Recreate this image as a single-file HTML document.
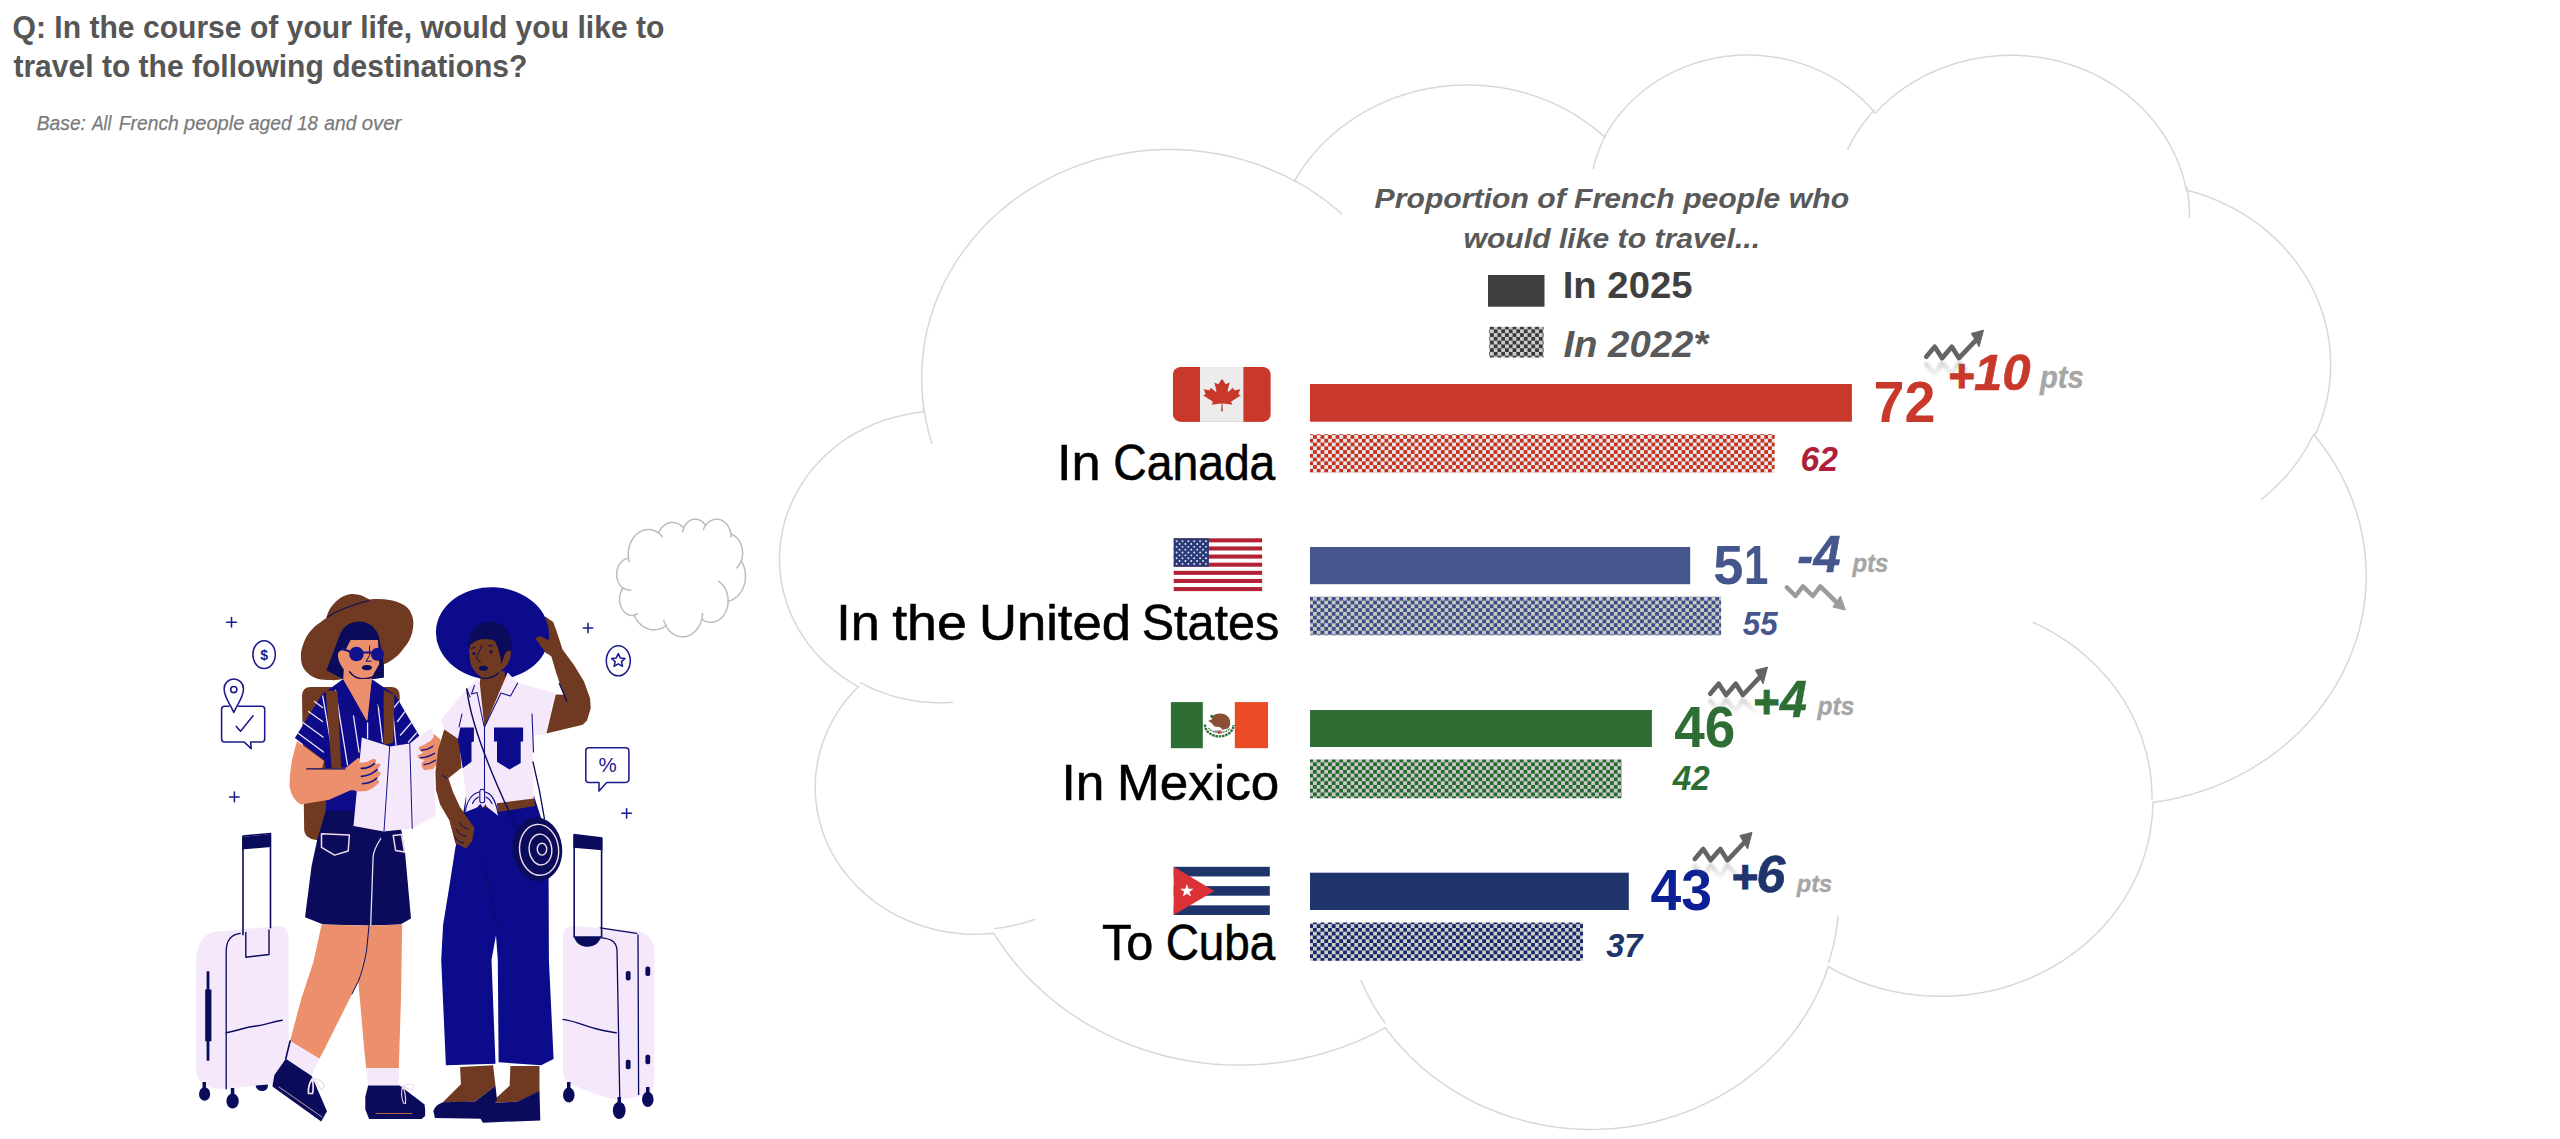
<!DOCTYPE html>
<html lang="en"><head><meta charset="utf-8"><title>Travel destinations</title>
<style>
html,body{margin:0;padding:0;background:#fff}
body{width:2560px;height:1139px;overflow:hidden}
svg{display:block;font-family:"Liberation Sans", sans-serif}
text{white-space:pre}
</style></head><body>
<svg width="2560" height="1139" viewBox="0 0 2560 1139">
<defs><pattern id="ckK" patternUnits="userSpaceOnUse" x="1490" y="325.65" width="7.52" height="7.52"><rect width="7.52" height="7.52" fill="#cbcbcb"/><rect width="3.76" height="3.76" fill="#3a3a3a"/><rect x="3.76" y="3.76" width="3.76" height="3.76" fill="#3a3a3a"/></pattern><pattern id="ckR" patternUnits="userSpaceOnUse" x="1309.3" y="431.3" width="7.52" height="7.52"><rect width="7.52" height="7.52" fill="#e2eaea"/><rect width="3.76" height="3.76" fill="#c8301c"/><rect x="3.76" y="3.76" width="3.76" height="3.76" fill="#c8301c"/></pattern><pattern id="ckU" patternUnits="userSpaceOnUse" x="1309.25" y="596.9" width="7.52" height="7.52"><rect width="7.52" height="7.52" fill="#c9c9c4"/><rect width="3.76" height="3.76" fill="#3d4d8a"/><rect x="3.76" y="3.76" width="3.76" height="3.76" fill="#3d4d8a"/></pattern><pattern id="ckM" patternUnits="userSpaceOnUse" x="1309.25" y="758.65" width="7.52" height="7.52"><rect width="7.52" height="7.52" fill="#ccc7cd"/><rect width="3.76" height="3.76" fill="#206a2a"/><rect x="3.76" y="3.76" width="3.76" height="3.76" fill="#206a2a"/></pattern><pattern id="ckC" patternUnits="userSpaceOnUse" x="1309.25" y="924.2" width="7.52" height="7.52"><rect width="7.52" height="7.52" fill="#cfcec8"/><rect width="3.76" height="3.76" fill="#17296c"/><rect x="3.76" y="3.76" width="3.76" height="3.76" fill="#17296c"/></pattern>
<linearGradient id="refl" x1="0" y1="0" x2="0" y2="1"><stop offset="0" stop-color="#fff" stop-opacity=".32"/><stop offset="1" stop-color="#fff" stop-opacity="0"/></linearGradient>
<mask id="reflM" maskUnits="userSpaceOnUse" x="-10" y="0" width="80" height="30"><rect x="-10" y="2" width="80" height="20" fill="url(#refl)"/></mask>
<filter id="blr" x="-20%" y="-50%" width="140%" height="200%"><feGaussianBlur stdDeviation="0.9"/></filter>
<g id="upShape"><path d="M0 0 L8.4 -10 L15.800 1.300 L25.500 -10 L32.600 1.300 L49.500 -16.500" fill="none" stroke-width="4.700" stroke-linejoin="round" stroke-linecap="round"/><path d="M57.200 -26.600 L45 -23.400 L52.800 -10 Z" stroke-width="1" stroke-linejoin="round"/></g>
<g id="upA"><use href="#upShape" fill="#646464" stroke="#646464"/><g mask="url(#reflM)"><use href="#upShape" fill="#646464" stroke="#646464" transform="translate(0 7.600) scale(1 -1)" filter="url(#blr)"/></g></g>
<g id="dnA" fill="#9b9b9b" stroke="#9b9b9b"><path d="M0 0 L8.700 8.600 L16.100 -1.100 L26.100 8.600 L33.500 -1.100 L50 15.200" fill="none" stroke-width="4.500" stroke-linejoin="round" stroke-linecap="round"/><path stroke-width="1" stroke-linejoin="round" d="M58.500 22.600 L53.700 8.600 L46.100 19.700 Z"/></g>
</defs>
<g fill="none" stroke="#d8d8d8" stroke-width="1.5"><path d="M923.9 408.8 L922.4 396.1 L921.7 383.3 L921.7 370.5 L922.6 357.8 L924.2 345.1 L926.6 332.5 L929.7 320.1 L933.6 307.8 L938.2 295.8 L943.5 284.0 L949.6 272.5 L956.3 261.4 L963.7 250.6 L971.7 240.2 L980.4 230.2 L989.6 220.7 L999.4 211.7 L1009.8 203.2 L1020.6 195.2 L1031.9 187.9 L1043.6 181.1 L1055.8 174.9 L1068.2 169.4 L1081.0 164.5 L1094.1 160.3 L1107.4 156.7 L1120.9 153.9 L1134.6 151.7 L1148.3 150.3 L1162.1 149.6 L1176.0 149.6 L1189.8 150.3 L1203.6 151.7 L1217.2 153.8 L1230.7 156.6 L1244.0 160.1 L1257.1 164.3 L1269.9 169.2 L1282.4 174.7 L1294.5 180.8 L1299.0 173.5 L1303.8 166.4 L1309.0 159.5 L1314.5 152.8 L1320.3 146.3 L1326.5 140.2 L1333.0 134.3 L1339.7 128.6 L1346.8 123.3 L1354.0 118.3 L1361.6 113.6 L1369.3 109.2 L1377.3 105.2 L1385.5 101.5 L1393.8 98.1 L1402.4 95.2 L1411.0 92.6 L1419.8 90.3 L1428.6 88.5 L1437.6 87.0 L1446.6 85.9 L1455.7 85.2 L1464.8 84.9 L1473.9 85.0 L1482.9 85.5 L1492.0 86.4 L1501.0 87.6 L1509.9 89.2 L1518.7 91.3 L1527.5 93.7 L1536.0 96.4 L1544.5 99.6 L1552.8 103.1 L1560.8 106.9 L1568.7 111.1 L1576.4 115.6 L1583.8 120.5 L1591.0 125.6 L1597.9 131.1 L1604.6 136.8 L1608.4 130.2 L1612.5 123.8 L1617.0 117.6 L1621.9 111.5 L1627.0 105.8 L1632.5 100.2 L1638.3 95.0 L1644.4 90.0 L1650.7 85.3 L1657.3 80.9 L1664.1 76.8 L1671.1 73.1 L1678.3 69.7 L1685.7 66.6 L1693.3 63.9 L1701.0 61.5 L1708.8 59.5 L1716.7 57.8 L1724.7 56.6 L1732.7 55.7 L1740.8 55.1 L1749.0 55.0 L1757.1 55.2 L1765.1 55.9 L1773.2 56.9 L1781.2 58.2 L1789.1 60.0 L1796.8 62.1 L1804.5 64.6 L1812.0 67.4 L1819.4 70.6 L1826.5 74.1 L1833.5 77.9 L1840.2 82.1 L1846.7 86.6 L1853.0 91.3 L1859.0 96.4 L1864.7 101.7 L1870.1 107.3 L1875.2 113.2 L1881.9 106.3 L1889.0 99.7 L1896.5 93.6 L1904.4 87.8 L1912.7 82.5 L1921.2 77.6 L1930.0 73.2 L1939.1 69.2 L1948.5 65.7 L1958.0 62.7 L1967.7 60.2 L1977.5 58.2 L1987.4 56.7 L1997.4 55.7 L2007.5 55.3 L2017.6 55.3 L2027.6 55.9 L2037.6 57.1 L2047.5 58.7 L2057.3 60.8 L2066.9 63.5 L2076.4 66.7 L2085.7 70.3 L2094.7 74.4 L2103.4 79.0 L2111.9 84.0 L2120.0 89.5 L2127.8 95.3 L2135.2 101.6 L2142.2 108.2 L2148.8 115.2 L2155.0 122.6 L2160.7 130.2 L2165.9 138.1 L2170.7 146.3 L2174.9 154.7 L2178.6 163.3 L2181.7 172.1 L2184.4 181.1 L2186.4 190.1 L2194.4 192.3 L2202.3 194.8 L2210.1 197.6 L2217.8 200.8 L2225.3 204.2 L2232.6 207.9 L2239.8 211.9 L2246.7 216.2 L2253.5 220.7 L2260.1 225.5 L2266.4 230.6 L2272.4 235.9 L2278.3 241.4 L2283.8 247.2 L2289.1 253.2 L2294.1 259.4 L2298.9 265.8 L2303.3 272.3 L2307.4 279.1 L2311.2 286.0 L2314.7 293.0 L2317.8 300.1 L2320.6 307.4 L2323.1 314.8 L2325.2 322.3 L2327.0 329.8 L2328.4 337.4 L2329.5 345.1 L2330.2 352.8 L2330.6 360.5 L2330.6 368.3 L2330.3 376.0 L2329.6 383.7 L2328.5 391.4 L2327.1 399.0 L2325.3 406.5 L2323.2 414.0 L2320.7 421.4 L2317.9 428.7 L2314.8 435.8 L2322.4 445.5 L2329.5 455.5 L2336.0 465.8 L2341.9 476.5 L2347.2 487.4 L2351.8 498.5 L2355.8 509.9 L2359.2 521.4 L2362.0 533.1 L2364.0 544.8 L2365.4 556.7 L2366.1 568.6 L2366.2 580.6 L2365.6 592.5 L2364.3 604.4 L2362.3 616.2 L2359.7 627.9 L2356.4 639.4 L2352.4 650.8 L2347.9 662.0 L2342.7 672.9 L2336.9 683.6 L2330.5 693.9 L2323.5 704.0 L2316.0 713.7 L2307.9 723.0 L2299.3 732.0 L2290.2 740.5 L2280.7 748.5 L2270.7 756.1 L2260.3 763.2 L2249.5 769.8 L2238.3 775.9 L2226.8 781.4 L2215.1 786.4 L2203.0 790.8 L2190.8 794.6 L2178.3 797.8 L2165.7 800.4 L2152.9 802.4 L2152.5 812.7 L2151.5 823.1 L2150.0 833.3 L2147.8 843.5 L2145.0 853.6 L2141.7 863.5 L2137.8 873.2 L2133.4 882.7 L2128.4 892.0 L2122.9 901.1 L2116.9 909.8 L2110.4 918.3 L2103.4 926.4 L2095.9 934.2 L2088.0 941.6 L2079.7 948.6 L2071.0 955.2 L2062.0 961.3 L2052.6 967.0 L2042.9 972.2 L2032.9 977.0 L2022.6 981.2 L2012.1 985.0 L2001.4 988.2 L1990.6 990.9 L1979.6 993.1 L1968.5 994.7 L1957.3 995.8 L1946.0 996.3 L1934.8 996.3 L1923.5 995.8 L1912.4 994.6 L1901.3 993.0 L1890.3 990.8 L1879.4 988.1 L1868.7 984.8 L1858.2 981.0 L1848.0 976.7 L1838.0 972.0 L1828.3 966.7 L1823.9 979.0 L1818.7 991.0 L1812.8 1002.7 L1806.2 1014.1 L1798.9 1025.2 L1791.0 1035.8 L1782.4 1046.0 L1773.2 1055.8 L1763.4 1065.0 L1753.1 1073.7 L1742.3 1081.9 L1731.0 1089.5 L1719.2 1096.5 L1707.0 1102.9 L1694.5 1108.6 L1681.6 1113.6 L1668.5 1118.0 L1655.1 1121.7 L1641.5 1124.7 L1627.7 1126.9 L1613.8 1128.5 L1599.9 1129.3 L1585.9 1129.4 L1571.9 1128.7 L1558.0 1127.4 L1544.2 1125.3 L1530.6 1122.4 L1517.1 1118.9 L1503.9 1114.7 L1491.0 1109.8 L1478.3 1104.2 L1466.1 1098.0 L1454.2 1091.2 L1442.8 1083.7 L1431.8 1075.7 L1421.4 1067.1 L1411.5 1057.9 L1402.2 1048.3 L1393.4 1038.2 L1385.4 1027.7 L1375.6 1032.8 L1365.6 1037.7 L1355.4 1042.1 L1345.0 1046.2 L1334.5 1049.9 L1323.8 1053.2 L1313.0 1056.1 L1302.1 1058.6 L1291.0 1060.7 L1279.9 1062.4 L1268.7 1063.7 L1257.5 1064.6 L1246.2 1065.0 L1235.0 1065.1 L1223.7 1064.7 L1212.5 1063.9 L1201.3 1062.7 L1190.1 1061.1 L1179.1 1059.1 L1168.1 1056.7 L1157.3 1053.8 L1146.6 1050.6 L1136.0 1047.0 L1125.6 1043.0 L1115.4 1038.6 L1105.3 1033.9 L1095.5 1028.7 L1085.9 1023.3 L1076.6 1017.4 L1067.5 1011.3 L1058.7 1004.8 L1050.2 998.0 L1041.9 990.8 L1034.0 983.4 L1026.4 975.7 L1019.2 967.7 L1012.3 959.5 L1005.7 951.0 L999.5 942.3 L993.7 933.3 L984.0 934.1 L974.3 934.3 L964.5 934.0 L954.8 933.1 L945.2 931.7 L935.7 929.8 L926.3 927.3 L917.1 924.3 L908.1 920.8 L899.4 916.8 L890.9 912.3 L882.8 907.4 L875.0 902.0 L867.6 896.1 L860.6 889.9 L854.0 883.3 L847.8 876.3 L842.2 869.0 L837.0 861.4 L832.3 853.5 L828.2 845.4 L824.6 837.0 L821.6 828.5 L819.1 819.8 L817.3 811.0 L816.0 802.1 L815.3 793.2 L815.2 784.2 L815.7 775.2 L816.8 766.3 L818.5 757.5 L820.7 748.8 L823.6 740.2 L827.0 731.8 L830.9 723.6 L835.4 715.6 L840.4 707.9 L845.9 700.5 L851.9 693.4 L858.3 686.7 L849.9 681.7 L841.8 676.3 L834.0 670.4 L826.7 664.1 L819.8 657.4 L813.4 650.3 L807.5 642.8 L802.1 635.0 L797.2 626.9 L792.9 618.5 L789.2 609.9 L786.1 601.1 L783.5 592.2 L781.6 583.1 L780.3 573.9 L779.6 564.6 L779.5 555.4 L780.1 546.1 L781.3 536.9 L783.1 527.8 L785.5 518.8 L788.6 510.0 L792.2 501.3 L796.4 492.9 L801.1 484.8 L806.4 476.9 L812.2 469.4 L818.6 462.2 L825.3 455.4 L832.6 449.0 L840.2 443.0 L848.3 437.5 L856.7 432.5 L865.4 428.0 L874.4 423.9 L883.7 420.5 L893.2 417.5 L902.8 415.2 L912.6 413.3 L922.5 412.1Z" fill="#fff"/><path d="M953.0 702.3 L950.5 702.4 L948.1 702.6 L945.7 702.7 L943.3 702.7 L940.9 702.7 L938.4 702.7 L936.0 702.7 L933.6 702.6 L931.2 702.5 L928.8 702.3 L926.4 702.1 L923.9 701.9 L921.5 701.7 L919.1 701.4 L916.7 701.1 L914.4 700.7 L912.0 700.3 L909.6 699.9 L907.2 699.5 L904.9 699.0 L902.5 698.5 L900.2 697.9 L897.8 697.3 L895.5 696.7 L893.2 696.0 L890.9 695.4 L888.6 694.6 L886.3 693.9 L884.0 693.1 L881.8 692.3 L879.5 691.5 L877.3 690.6 L875.1 689.7 L872.9 688.7 L870.7 687.8 L868.5 686.8 L866.4 685.7 L864.2 684.7 L862.1 683.6 L860.0 682.5 M1034.9 919.1 L1034.0 919.5 L1033.0 919.8 L1032.0 920.2 L1031.0 920.5 L1030.0 920.8 L1029.0 921.2 L1028.0 921.5 L1027.0 921.8 L1026.1 922.1 L1025.1 922.4 L1024.1 922.7 L1023.0 923.0 L1022.0 923.3 L1021.0 923.6 L1020.0 923.8 L1019.0 924.1 L1018.0 924.4 L1017.0 924.6 L1016.0 924.9 L1015.0 925.1 L1013.9 925.3 L1012.9 925.6 L1011.9 925.8 L1010.9 926.0 L1009.8 926.2 L1008.8 926.4 L1007.8 926.6 L1006.7 926.8 L1005.7 927.0 L1004.7 927.2 L1003.6 927.3 L1002.6 927.5 L1001.6 927.7 L1000.5 927.8 L999.5 928.0 L998.5 928.1 L997.4 928.2 L996.4 928.4 L995.3 928.5 L994.3 928.6 M1385.3 1023.3 L1384.5 1022.3 L1383.8 1021.3 L1383.1 1020.3 L1382.4 1019.2 L1381.7 1018.2 L1381.0 1017.2 L1380.3 1016.1 L1379.6 1015.1 L1378.9 1014.0 L1378.2 1013.0 L1377.5 1011.9 L1376.9 1010.9 L1376.2 1009.8 L1375.6 1008.7 L1374.9 1007.7 L1374.3 1006.6 L1373.6 1005.5 L1373.0 1004.5 L1372.4 1003.4 L1371.8 1002.3 L1371.2 1001.2 L1370.5 1000.1 L1369.9 999.0 L1369.4 997.9 L1368.8 996.8 L1368.2 995.7 L1367.6 994.6 L1367.1 993.5 L1366.5 992.4 L1365.9 991.3 L1365.4 990.2 L1364.9 989.1 L1364.3 988.0 L1363.8 986.8 L1363.3 985.7 L1362.8 984.6 L1362.2 983.5 L1361.7 982.3 L1361.3 981.2 L1360.8 980.1 M1838.3 915.4 L1838.1 916.7 L1838.0 917.9 L1837.9 919.1 L1837.8 920.3 L1837.6 921.5 L1837.5 922.7 L1837.3 923.9 L1837.2 925.1 L1837.0 926.3 L1836.8 927.5 L1836.7 928.7 L1836.5 929.9 L1836.3 931.1 L1836.1 932.3 L1835.9 933.5 L1835.6 934.7 L1835.4 935.8 L1835.2 937.0 L1835.0 938.2 L1834.7 939.4 L1834.5 940.6 L1834.2 941.8 L1834.0 943.0 L1833.7 944.2 L1833.4 945.3 L1833.1 946.5 L1832.8 947.7 L1832.5 948.9 L1832.2 950.1 L1831.9 951.2 L1831.6 952.4 L1831.3 953.6 L1831.0 954.8 L1830.6 955.9 L1830.3 957.1 L1829.9 958.3 L1829.6 959.4 L1829.2 960.6 L1828.9 961.8 L1828.5 962.9 M2032.7 622.2 L2038.1 624.6 L2043.3 627.3 L2048.5 630.0 L2053.6 632.9 L2058.6 635.9 L2063.5 639.1 L2068.3 642.3 L2073.0 645.7 L2077.6 649.2 L2082.1 652.9 L2086.4 656.6 L2090.7 660.5 L2094.8 664.4 L2098.9 668.5 L2102.7 672.7 L2106.5 677.0 L2110.1 681.3 L2113.6 685.8 L2117.0 690.3 L2120.2 695.0 L2123.3 699.7 L2126.2 704.5 L2129.0 709.4 L2131.6 714.3 L2134.1 719.3 L2136.4 724.4 L2138.6 729.5 L2140.6 734.7 L2142.5 739.9 L2144.1 745.2 L2145.7 750.5 L2147.0 755.9 L2148.3 761.3 L2149.3 766.7 L2150.2 772.1 L2150.9 777.6 L2151.4 783.1 L2151.8 788.6 L2152.0 794.1 L2152.0 799.6 M2314.1 433.2 L2313.2 435.1 L2312.2 437.0 L2311.3 438.9 L2310.3 440.8 L2309.3 442.7 L2308.3 444.5 L2307.3 446.4 L2306.2 448.2 L2305.1 450.1 L2304.0 451.9 L2302.9 453.7 L2301.7 455.5 L2300.5 457.2 L2299.3 459.0 L2298.1 460.8 L2296.9 462.5 L2295.6 464.2 L2294.3 465.9 L2293.0 467.6 L2291.7 469.3 L2290.3 471.0 L2289.0 472.6 L2287.6 474.3 L2286.2 475.9 L2284.7 477.5 L2283.3 479.1 L2281.8 480.7 L2280.3 482.3 L2278.8 483.8 L2277.3 485.3 L2275.7 486.9 L2274.2 488.4 L2272.6 489.8 L2271.0 491.3 L2269.3 492.8 L2267.7 494.2 L2266.0 495.6 L2264.4 497.0 L2262.7 498.4 L2261.0 499.7 M2186.6 186.4 L2186.8 187.2 L2186.9 188.0 L2187.1 188.7 L2187.2 189.5 L2187.3 190.3 L2187.5 191.1 L2187.6 191.8 L2187.7 192.6 L2187.8 193.4 L2188.0 194.2 L2188.1 195.0 L2188.2 195.8 L2188.3 196.5 L2188.4 197.3 L2188.5 198.1 L2188.5 198.9 L2188.6 199.7 L2188.7 200.5 L2188.8 201.3 L2188.9 202.0 L2188.9 202.8 L2189.0 203.6 L2189.1 204.4 L2189.1 205.2 L2189.2 206.0 L2189.2 206.8 L2189.2 207.6 L2189.3 208.3 L2189.3 209.1 L2189.4 209.9 L2189.4 210.7 L2189.4 211.5 L2189.4 212.3 L2189.4 213.1 L2189.4 213.9 L2189.5 214.7 L2189.5 215.4 L2189.5 216.2 L2189.4 217.0 L2189.4 217.8 M1847.5 149.8 L1848.0 148.7 L1848.5 147.6 L1849.1 146.5 L1849.6 145.4 L1850.2 144.4 L1850.7 143.3 L1851.3 142.2 L1851.9 141.2 L1852.5 140.1 L1853.1 139.1 L1853.7 138.0 L1854.3 137.0 L1854.9 136.0 L1855.5 134.9 L1856.2 133.9 L1856.8 132.9 L1857.5 131.8 L1858.1 130.8 L1858.8 129.8 L1859.5 128.8 L1860.2 127.8 L1860.9 126.8 L1861.6 125.8 L1862.3 124.8 L1863.0 123.8 L1863.7 122.9 L1864.5 121.9 L1865.2 120.9 L1865.9 120.0 L1866.7 119.0 L1867.5 118.0 L1868.2 117.1 L1869.0 116.1 L1869.8 115.2 L1870.6 114.3 L1871.4 113.3 L1872.2 112.4 L1873.0 111.5 L1873.8 110.6 L1874.7 109.7 M1593.0 168.8 L1593.2 167.9 L1593.4 167.1 L1593.7 166.2 L1593.9 165.3 L1594.1 164.4 L1594.4 163.5 L1594.6 162.6 L1594.9 161.7 L1595.1 160.8 L1595.4 159.9 L1595.7 159.1 L1596.0 158.2 L1596.3 157.3 L1596.5 156.4 L1596.8 155.5 L1597.1 154.7 L1597.5 153.8 L1597.8 152.9 L1598.1 152.1 L1598.4 151.2 L1598.8 150.3 L1599.1 149.5 L1599.4 148.6 L1599.8 147.7 L1600.1 146.9 L1600.5 146.0 L1600.9 145.2 L1601.2 144.3 L1601.6 143.5 L1602.0 142.6 L1602.4 141.8 L1602.8 140.9 L1603.2 140.1 L1603.6 139.3 L1604.0 138.4 L1604.4 137.6 L1604.9 136.8 L1605.3 135.9 L1605.7 135.1 L1606.2 134.3 M1294.4 180.6 L1295.7 181.3 L1296.9 182.0 L1298.2 182.7 L1299.5 183.4 L1300.8 184.2 L1302.1 184.9 L1303.3 185.7 L1304.6 186.4 L1305.8 187.2 L1307.1 187.9 L1308.3 188.7 L1309.6 189.5 L1310.8 190.3 L1312.0 191.1 L1313.3 191.9 L1314.5 192.7 L1315.7 193.5 L1316.9 194.3 L1318.1 195.2 L1319.3 196.0 L1320.5 196.8 L1321.7 197.7 L1322.9 198.6 L1324.0 199.4 L1325.2 200.3 L1326.4 201.2 L1327.5 202.0 L1328.7 202.9 L1329.8 203.8 L1331.0 204.7 L1332.1 205.6 L1333.2 206.6 L1334.4 207.5 L1335.5 208.4 L1336.6 209.3 L1337.7 210.3 L1338.8 211.2 L1339.9 212.2 L1341.0 213.1 L1342.0 214.1 M932.2 444.0 L931.9 443.2 L931.6 442.3 L931.4 441.4 L931.1 440.6 L930.8 439.7 L930.6 438.8 L930.3 438.0 L930.0 437.1 L929.8 436.2 L929.5 435.3 L929.3 434.5 L929.1 433.6 L928.8 432.7 L928.6 431.8 L928.4 431.0 L928.1 430.1 L927.9 429.2 L927.7 428.3 L927.5 427.4 L927.3 426.5 L927.1 425.7 L926.9 424.8 L926.7 423.9 L926.5 423.0 L926.3 422.1 L926.1 421.2 L925.9 420.4 L925.7 419.5 L925.6 418.6 L925.4 417.7 L925.2 416.8 L925.0 415.9 L924.9 415.0 L924.7 414.1 L924.6 413.2 L924.4 412.3 L924.3 411.4 L924.1 410.6 L924.0 409.7 L923.9 408.8"/></g>
<g fill="none" stroke="#bcbcbc" stroke-width="1.5" stroke-linecap="round"><path d="M628.41 557.92 L628.29 556.53 L628.23 555.13 L628.24 553.73 L628.30 552.34 L628.44 550.95 L628.63 549.57 L628.88 548.21 L629.20 546.87 L629.57 545.55 L630.00 544.26 L630.50 543.00 L631.04 541.78 L631.64 540.60 L632.29 539.46 L633.00 538.37 L633.75 537.33 L634.54 536.34 L635.38 535.41 L636.26 534.54 L637.18 533.73 L638.13 532.99 L639.11 532.31 L640.13 531.71 L641.16 531.17 L642.23 530.71 L643.30 530.32 L644.40 530.01 L645.51 529.78 L646.62 529.62 L647.75 529.54 L648.87 529.54 L649.99 529.61 L651.11 529.77 L652.22 530.00 L653.31 530.31 L654.39 530.69 L655.45 531.15 L656.49 531.68 L657.51 532.29 L658.49 532.96 L658.85 532.16 L659.24 531.38 L659.66 530.62 L660.11 529.89 L660.58 529.19 L661.08 528.51 L661.61 527.86 L662.16 527.25 L662.73 526.66 L663.32 526.11 L663.93 525.60 L664.56 525.12 L665.21 524.68 L665.87 524.27 L666.55 523.91 L667.24 523.58 L667.94 523.30 L668.65 523.05 L669.37 522.85 L670.10 522.69 L670.83 522.57 L671.57 522.49 L672.31 522.46 L673.04 522.47 L673.78 522.52 L674.51 522.62 L675.24 522.75 L675.97 522.93 L676.68 523.15 L677.39 523.42 L678.09 523.72 L678.77 524.06 L679.45 524.45 L680.10 524.87 L680.74 525.32 L681.36 525.82 L681.97 526.35 L682.55 526.92 L683.11 527.51 L683.65 528.14 L683.96 527.42 L684.29 526.71 L684.66 526.03 L685.05 525.37 L685.47 524.74 L685.92 524.14 L686.39 523.56 L686.88 523.02 L687.39 522.50 L687.93 522.02 L688.48 521.57 L689.05 521.16 L689.63 520.79 L690.23 520.45 L690.85 520.15 L691.47 519.89 L692.11 519.67 L692.75 519.49 L693.40 519.35 L694.05 519.26 L694.71 519.20 L695.37 519.18 L696.02 519.21 L696.68 519.28 L697.33 519.39 L697.98 519.54 L698.62 519.73 L699.25 519.96 L699.87 520.23 L700.48 520.54 L701.08 520.89 L701.66 521.27 L702.23 521.69 L702.77 522.15 L703.30 522.64 L703.81 523.16 L704.30 523.72 L704.76 524.30 L705.20 524.91 L705.61 525.55 L706.15 524.80 L706.73 524.08 L707.34 523.41 L707.98 522.78 L708.65 522.20 L709.35 521.66 L710.06 521.17 L710.80 520.74 L711.56 520.35 L712.33 520.02 L713.12 519.75 L713.91 519.53 L714.72 519.37 L715.53 519.26 L716.35 519.21 L717.16 519.22 L717.98 519.29 L718.79 519.41 L719.59 519.59 L720.39 519.82 L721.17 520.11 L721.94 520.46 L722.69 520.86 L723.42 521.31 L724.13 521.81 L724.82 522.36 L725.48 522.96 L726.11 523.60 L726.71 524.29 L727.28 525.01 L727.82 525.78 L728.32 526.58 L728.78 527.42 L729.20 528.28 L729.59 529.18 L729.93 530.10 L730.23 531.04 L730.49 532.01 L730.70 532.99 L730.87 533.98 L731.52 534.22 L732.16 534.49 L732.79 534.80 L733.41 535.14 L734.02 535.52 L734.62 535.92 L735.20 536.36 L735.76 536.83 L736.31 537.33 L736.84 537.85 L737.36 538.41 L737.85 538.99 L738.32 539.60 L738.77 540.23 L739.20 540.89 L739.61 541.56 L739.99 542.26 L740.35 542.98 L740.68 543.72 L740.99 544.47 L741.27 545.24 L741.53 546.03 L741.76 546.82 L741.96 547.63 L742.13 548.45 L742.28 549.28 L742.39 550.11 L742.48 550.95 L742.54 551.79 L742.57 552.64 L742.57 553.48 L742.54 554.33 L742.48 555.17 L742.40 556.01 L742.28 556.85 L742.14 557.67 L741.97 558.49 L741.77 559.30 L741.54 560.10 L741.29 560.88 L741.91 561.94 L742.48 563.04 L743.00 564.17 L743.48 565.33 L743.91 566.53 L744.29 567.75 L744.62 568.99 L744.89 570.25 L745.11 571.53 L745.28 572.82 L745.39 574.12 L745.45 575.42 L745.46 576.73 L745.40 578.04 L745.30 579.34 L745.14 580.63 L744.93 581.91 L744.66 583.17 L744.34 584.42 L743.97 585.64 L743.55 586.84 L743.08 588.01 L742.56 589.15 L741.99 590.25 L741.38 591.31 L740.72 592.33 L740.03 593.31 L739.29 594.24 L738.52 595.12 L737.70 595.96 L736.86 596.73 L735.98 597.45 L735.08 598.12 L734.15 598.72 L733.19 599.27 L732.22 599.75 L731.22 600.16 L730.21 600.52 L729.18 600.80 L728.15 601.02 L728.12 602.15 L728.04 603.29 L727.91 604.41 L727.73 605.52 L727.51 606.62 L727.24 607.71 L726.92 608.77 L726.56 609.82 L726.16 610.84 L725.71 611.83 L725.22 612.78 L724.70 613.71 L724.13 614.60 L723.52 615.45 L722.88 616.26 L722.21 617.03 L721.50 617.75 L720.77 618.42 L720.01 619.04 L719.22 619.62 L718.41 620.14 L717.57 620.60 L716.72 621.01 L715.86 621.37 L714.97 621.66 L714.08 621.90 L713.18 622.08 L712.27 622.20 L711.36 622.26 L710.45 622.26 L709.54 622.19 L708.63 622.07 L707.73 621.89 L706.83 621.65 L705.95 621.35 L705.09 620.99 L704.24 620.58 L703.40 620.11 L702.59 619.59 L701.81 619.01 L701.45 620.36 L701.03 621.67 L700.55 622.96 L700.01 624.21 L699.42 625.41 L698.78 626.58 L698.08 627.70 L697.34 628.76 L696.54 629.78 L695.71 630.73 L694.83 631.63 L693.91 632.46 L692.95 633.22 L691.96 633.92 L690.95 634.55 L689.90 635.10 L688.84 635.58 L687.75 635.98 L686.64 636.31 L685.53 636.56 L684.40 636.73 L683.27 636.81 L682.13 636.82 L681.00 636.75 L679.87 636.60 L678.75 636.37 L677.64 636.07 L676.55 635.68 L675.48 635.22 L674.43 634.68 L673.41 634.07 L672.41 633.39 L671.45 632.64 L670.52 631.82 L669.63 630.94 L668.79 630.00 L667.98 629.00 L667.22 627.95 L666.52 626.84 L665.86 625.69 L665.07 626.25 L664.26 626.78 L663.43 627.27 L662.59 627.72 L661.73 628.12 L660.87 628.48 L659.99 628.80 L659.10 629.08 L658.20 629.31 L657.30 629.49 L656.39 629.63 L655.48 629.73 L654.57 629.78 L653.66 629.78 L652.74 629.74 L651.83 629.66 L650.92 629.53 L650.02 629.35 L649.12 629.13 L648.23 628.86 L647.35 628.55 L646.48 628.20 L645.62 627.80 L644.78 627.37 L643.95 626.89 L643.14 626.37 L642.34 625.80 L641.56 625.21 L640.80 624.57 L640.07 623.89 L639.35 623.18 L638.66 622.43 L637.99 621.65 L637.35 620.84 L636.73 620.00 L636.14 619.12 L635.58 618.22 L635.05 617.29 L634.55 616.34 L634.08 615.36 L633.29 615.44 L632.50 615.47 L631.71 615.43 L630.92 615.34 L630.14 615.18 L629.37 614.97 L628.61 614.70 L627.86 614.37 L627.13 613.99 L626.42 613.55 L625.74 613.06 L625.08 612.51 L624.45 611.92 L623.84 611.28 L623.27 610.60 L622.74 609.88 L622.24 609.11 L621.78 608.32 L621.36 607.48 L620.98 606.62 L620.65 605.73 L620.36 604.82 L620.11 603.88 L619.91 602.93 L619.76 601.97 L619.66 600.99 L619.60 600.01 L619.59 599.03 L619.63 598.05 L619.72 597.07 L619.86 596.10 L620.04 595.15 L620.27 594.21 L620.55 593.29 L620.87 592.39 L621.23 591.52 L621.64 590.67 L622.08 589.86 L622.57 589.09 L623.09 588.35 L622.40 587.81 L621.75 587.21 L621.12 586.57 L620.53 585.88 L619.97 585.14 L619.45 584.36 L618.97 583.55 L618.53 582.69 L618.13 581.81 L617.79 580.89 L617.48 579.95 L617.23 578.98 L617.02 578.00 L616.86 577.01 L616.76 576.00 L616.70 574.99 L616.70 573.97 L616.74 572.96 L616.84 571.95 L616.99 570.95 L617.18 569.97 L617.43 569.00 L617.72 568.06 L618.06 567.13 L618.45 566.24 L618.88 565.38 L619.35 564.56 L619.86 563.77 L620.42 563.02 L621.00 562.32 L621.62 561.67 L622.28 561.07 L622.96 560.52 L623.67 560.02 L624.40 559.58 L625.15 559.20 L625.92 558.88 L626.70 558.62 L627.50 558.42 L628.30 558.28Z" fill="#fff"/><path d="M630.77 590.06 L630.57 590.08 L630.38 590.09 L630.18 590.10 L629.99 590.11 L629.79 590.11 L629.59 590.11 L629.40 590.10 L629.20 590.09 L629.00 590.08 L628.81 590.06 L628.61 590.04 L628.42 590.02 L628.22 589.99 L628.03 589.96 L627.83 589.93 L627.64 589.89 L627.44 589.85 L627.25 589.80 L627.06 589.75 L626.87 589.70 L626.68 589.64 L626.49 589.58 L626.30 589.52 L626.11 589.45 L625.92 589.38 L625.73 589.30 L625.55 589.22 L625.36 589.14 L625.18 589.06 L624.99 588.97 L624.81 588.87 L624.63 588.78 L624.45 588.68 L624.27 588.58 L624.10 588.47 L623.92 588.36 L623.74 588.25 L623.57 588.13 L623.40 588.01 L623.23 587.89 M637.42 613.80 L637.34 613.84 L637.26 613.88 L637.18 613.92 L637.10 613.95 L637.02 613.99 L636.94 614.03 L636.86 614.06 L636.78 614.10 L636.70 614.13 L636.62 614.16 L636.54 614.20 L636.46 614.23 L636.38 614.26 L636.30 614.29 L636.21 614.32 L636.13 614.35 L636.05 614.38 L635.97 614.40 L635.88 614.43 L635.80 614.46 L635.72 614.48 L635.64 614.51 L635.55 614.53 L635.47 614.56 L635.39 614.58 L635.30 614.60 L635.22 614.62 L635.14 614.64 L635.05 614.66 L634.97 614.68 L634.88 614.70 L634.80 614.72 L634.72 614.74 L634.63 614.75 L634.55 614.77 L634.46 614.79 L634.38 614.80 L634.29 614.82 L634.21 614.83 L634.12 614.84 M665.85 625.21 L665.79 625.10 L665.73 624.99 L665.68 624.88 L665.62 624.76 L665.56 624.65 L665.50 624.54 L665.45 624.42 L665.39 624.31 L665.34 624.19 L665.28 624.08 L665.23 623.96 L665.17 623.85 L665.12 623.73 L665.07 623.62 L665.01 623.50 L664.96 623.38 L664.91 623.26 L664.86 623.15 L664.81 623.03 L664.76 622.91 L664.71 622.79 L664.66 622.67 L664.61 622.55 L664.56 622.43 L664.51 622.31 L664.47 622.19 L664.42 622.07 L664.38 621.95 L664.33 621.83 L664.28 621.71 L664.24 621.59 L664.20 621.46 L664.15 621.34 L664.11 621.22 L664.07 621.09 L664.03 620.97 L663.99 620.85 L663.94 620.72 L663.90 620.60 L663.86 620.47 M702.61 613.40 L702.60 613.53 L702.60 613.66 L702.58 613.80 L702.57 613.93 L702.56 614.06 L702.55 614.19 L702.54 614.32 L702.53 614.45 L702.51 614.59 L702.50 614.72 L702.48 614.85 L702.47 614.98 L702.45 615.11 L702.44 615.24 L702.42 615.37 L702.40 615.50 L702.38 615.63 L702.37 615.76 L702.35 615.89 L702.33 616.02 L702.31 616.15 L702.29 616.28 L702.26 616.41 L702.24 616.54 L702.22 616.67 L702.20 616.80 L702.17 616.93 L702.15 617.06 L702.13 617.19 L702.10 617.32 L702.08 617.45 L702.05 617.58 L702.02 617.70 L701.99 617.83 L701.97 617.96 L701.94 618.09 L701.91 618.22 L701.88 618.34 L701.85 618.47 L701.82 618.60 M718.40 581.29 L718.83 581.56 L719.26 581.84 L719.68 582.15 L720.09 582.46 L720.49 582.79 L720.89 583.14 L721.28 583.49 L721.66 583.86 L722.04 584.25 L722.40 584.65 L722.75 585.06 L723.10 585.48 L723.44 585.91 L723.76 586.36 L724.08 586.82 L724.38 587.29 L724.68 587.76 L724.96 588.25 L725.23 588.75 L725.49 589.26 L725.74 589.78 L725.98 590.30 L726.21 590.83 L726.42 591.37 L726.62 591.92 L726.81 592.48 L726.99 593.04 L727.15 593.61 L727.30 594.18 L727.44 594.76 L727.56 595.34 L727.67 595.93 L727.77 596.52 L727.85 597.11 L727.93 597.71 L727.98 598.30 L728.03 598.90 L728.06 599.51 L728.07 600.11 L728.08 600.71 M741.23 560.60 L741.15 560.81 L741.08 561.01 L741.00 561.22 L740.92 561.43 L740.84 561.63 L740.76 561.84 L740.67 562.04 L740.59 562.24 L740.50 562.44 L740.41 562.64 L740.32 562.84 L740.22 563.03 L740.13 563.23 L740.03 563.42 L739.93 563.61 L739.83 563.80 L739.73 563.99 L739.62 564.18 L739.52 564.37 L739.41 564.55 L739.30 564.73 L739.19 564.91 L739.08 565.09 L738.96 565.27 L738.85 565.45 L738.73 565.62 L738.61 565.80 L738.49 565.97 L738.36 566.14 L738.24 566.31 L738.11 566.47 L737.99 566.64 L737.86 566.80 L737.73 566.96 L737.60 567.12 L737.46 567.27 L737.33 567.43 L737.19 567.58 L737.06 567.73 L736.92 567.88 M730.88 533.57 L730.90 533.66 L730.91 533.74 L730.92 533.83 L730.93 533.91 L730.94 534.00 L730.95 534.08 L730.96 534.17 L730.97 534.25 L730.98 534.34 L730.99 534.42 L731.00 534.51 L731.01 534.60 L731.02 534.68 L731.03 534.77 L731.03 534.85 L731.04 534.94 L731.05 535.03 L731.05 535.11 L731.06 535.20 L731.07 535.28 L731.07 535.37 L731.08 535.46 L731.08 535.54 L731.09 535.63 L731.09 535.71 L731.09 535.80 L731.10 535.89 L731.10 535.97 L731.10 536.06 L731.11 536.15 L731.11 536.23 L731.11 536.32 L731.11 536.41 L731.11 536.49 L731.11 536.58 L731.11 536.67 L731.11 536.75 L731.11 536.84 L731.11 536.92 L731.11 537.01 M703.36 529.56 L703.40 529.44 L703.45 529.32 L703.49 529.20 L703.53 529.09 L703.58 528.97 L703.63 528.85 L703.67 528.74 L703.72 528.62 L703.77 528.50 L703.82 528.39 L703.86 528.28 L703.91 528.16 L703.97 528.05 L704.02 527.93 L704.07 527.82 L704.12 527.71 L704.17 527.60 L704.23 527.49 L704.28 527.38 L704.34 527.27 L704.39 527.16 L704.45 527.05 L704.51 526.94 L704.56 526.83 L704.62 526.72 L704.68 526.61 L704.74 526.51 L704.80 526.40 L704.86 526.30 L704.92 526.19 L704.98 526.09 L705.05 525.98 L705.11 525.88 L705.17 525.78 L705.24 525.67 L705.30 525.57 L705.37 525.47 L705.43 525.37 L705.50 525.27 L705.57 525.17 M682.71 531.65 L682.73 531.55 L682.75 531.45 L682.76 531.35 L682.78 531.26 L682.80 531.16 L682.82 531.06 L682.84 530.96 L682.86 530.87 L682.88 530.77 L682.91 530.67 L682.93 530.58 L682.95 530.48 L682.97 530.38 L683.00 530.29 L683.02 530.19 L683.05 530.10 L683.07 530.00 L683.10 529.91 L683.12 529.81 L683.15 529.72 L683.18 529.62 L683.21 529.53 L683.23 529.43 L683.26 529.34 L683.29 529.24 L683.32 529.15 L683.35 529.06 L683.38 528.96 L683.41 528.87 L683.44 528.78 L683.47 528.69 L683.51 528.59 L683.54 528.50 L683.57 528.41 L683.61 528.32 L683.64 528.23 L683.67 528.14 L683.71 528.05 L683.74 527.96 L683.78 527.87 M658.48 532.93 L658.58 533.01 L658.69 533.09 L658.79 533.17 L658.89 533.25 L659.00 533.33 L659.10 533.41 L659.20 533.49 L659.31 533.57 L659.41 533.66 L659.51 533.74 L659.61 533.82 L659.71 533.91 L659.81 534.00 L659.91 534.08 L660.01 534.17 L660.11 534.26 L660.21 534.35 L660.31 534.44 L660.40 534.53 L660.50 534.62 L660.60 534.72 L660.69 534.81 L660.79 534.90 L660.88 535.00 L660.98 535.09 L661.07 535.19 L661.17 535.28 L661.26 535.38 L661.35 535.48 L661.45 535.58 L661.54 535.68 L661.63 535.78 L661.72 535.88 L661.81 535.98 L661.90 536.08 L661.99 536.19 L662.08 536.29 L662.17 536.39 L662.26 536.50 L662.35 536.60 M629.09 561.78 L629.06 561.69 L629.04 561.59 L629.02 561.50 L629.00 561.40 L628.97 561.31 L628.95 561.21 L628.93 561.12 L628.91 561.02 L628.89 560.92 L628.87 560.83 L628.85 560.73 L628.83 560.64 L628.81 560.54 L628.79 560.45 L628.77 560.35 L628.76 560.25 L628.74 560.16 L628.72 560.06 L628.70 559.96 L628.69 559.87 L628.67 559.77 L628.65 559.67 L628.64 559.58 L628.62 559.48 L628.61 559.38 L628.59 559.29 L628.58 559.19 L628.56 559.09 L628.55 558.99 L628.53 558.90 L628.52 558.80 L628.51 558.70 L628.49 558.60 L628.48 558.51 L628.47 558.41 L628.46 558.31 L628.44 558.21 L628.43 558.12 L628.42 558.02 L628.41 557.92"/></g>
<text x="12.6" y="38.0" font-size="30.5" font-weight="bold" font-style="normal" fill="#565656" textLength="651.77" lengthAdjust="spacingAndGlyphs">Q: In the course of your life, would you like to</text>
<text x="13.41" y="76.9" font-size="30.5" font-weight="bold" font-style="normal" fill="#565656" textLength="514.01" lengthAdjust="spacingAndGlyphs">travel to the following destinations?</text>
<text y="129.7" font-size="19.7" font-style="italic" fill="#7a7a7a" stroke="#7a7a7a" stroke-width=".25"><tspan x="36.8" textLength="49.14" lengthAdjust="spacingAndGlyphs">Base:</tspan> <tspan x="91.89" textLength="19.4" lengthAdjust="spacingAndGlyphs">All</tspan> <tspan x="118.76" textLength="60.04" lengthAdjust="spacingAndGlyphs">French</tspan> <tspan x="184.03" textLength="60.39" lengthAdjust="spacingAndGlyphs">people</tspan> <tspan x="248.93" textLength="42.7" lengthAdjust="spacingAndGlyphs">aged</tspan> <tspan x="297.2" textLength="20.67" lengthAdjust="spacingAndGlyphs">18</tspan> <tspan x="324.34" textLength="32.01" lengthAdjust="spacingAndGlyphs">and</tspan> <tspan x="361.76" textLength="39.53" lengthAdjust="spacingAndGlyphs">over</tspan></text>
<text x="1374.6" y="207.5" font-size="27.3" font-weight="bold" font-style="italic" fill="#595959" textLength="474.56" lengthAdjust="spacingAndGlyphs">Proportion of French people who</text>
<text x="1463.47" y="247.5" font-size="27.3" font-weight="bold" font-style="italic" fill="#595959" textLength="296.6" lengthAdjust="spacingAndGlyphs">would like to travel...</text>
<rect x="1488" y="275" width="56.5" height="31.7" fill="#404040"/>
<text x="1562.69" y="298.3" font-size="36.8" font-weight="bold" font-style="normal" fill="#404040" textLength="129.82" lengthAdjust="spacingAndGlyphs">In 2025</text>
<rect x="1489.3" y="326.8" width="54.3" height="30.7" fill="url(#ckK)"/>
<text x="1563.42" y="356.5" font-size="36.8" font-weight="bold" font-style="italic" fill="#595959" textLength="144.86" lengthAdjust="spacingAndGlyphs">In 2022*</text>
<rect x="1310" y="384" width="541.9" height="37.7" fill="#c8392b"/>
<rect x="1310" y="434.2" width="464.7" height="38.3" fill="url(#ckR)"/>
<text y="479.7" font-size="49.4" fill="#000" stroke="#000" stroke-width=".55"><tspan x="1056.96" textLength="43.7" lengthAdjust="spacingAndGlyphs">In</tspan> <tspan x="1113.31" textLength="162.03" lengthAdjust="spacingAndGlyphs">Canada</tspan></text>
<rect x="1310" y="547" width="380.2" height="37.2" fill="#44568c"/>
<rect x="1310" y="596.7" width="411.1" height="38.6" fill="url(#ckU)"/>
<text y="640" font-size="49.4" fill="#000" stroke="#000" stroke-width=".55"><tspan x="836.26" textLength="43.51" lengthAdjust="spacingAndGlyphs">In</tspan> <tspan x="892.18" textLength="74.71" lengthAdjust="spacingAndGlyphs">the</tspan> <tspan x="978.95" textLength="152.04" lengthAdjust="spacingAndGlyphs">United</tspan> <tspan x="1141.72" textLength="137.54" lengthAdjust="spacingAndGlyphs">States</tspan></text>
<rect x="1310" y="710" width="341.9" height="37.0" fill="#2e6e35"/>
<rect x="1310" y="759.5" width="311.6" height="38.8" fill="url(#ckM)"/>
<text y="799.8" font-size="49.4" fill="#000" stroke="#000" stroke-width=".55"><tspan x="1061.55" textLength="42.84" lengthAdjust="spacingAndGlyphs">In</tspan> <tspan x="1117.13" textLength="162.12" lengthAdjust="spacingAndGlyphs">Mexico</tspan></text>
<rect x="1310" y="872.7" width="318.8" height="37.3" fill="#20346c"/>
<rect x="1310" y="922.5" width="273.0" height="38.3" fill="url(#ckC)"/>
<text y="960" font-size="49.4" fill="#000" stroke="#000" stroke-width=".55"><tspan x="1101.94" textLength="51.34" lengthAdjust="spacingAndGlyphs">To</tspan> <tspan x="1165.65" textLength="109.67" lengthAdjust="spacingAndGlyphs">Cuba</tspan></text>
<text x="1873.61" y="421.6" font-size="58.0" font-weight="bold" font-style="normal" fill="#c8392b" textLength="62.02" lengthAdjust="spacingAndGlyphs">72</text>
<text font-weight="bold" font-style="italic" fill="#c8392b" stroke="#c8392b" stroke-width="0.5"><tspan x="1947.69" y="391.8" font-size="46.22" textLength="26.39" lengthAdjust="spacingAndGlyphs" stroke-width="1.1">+</tspan><tspan x="1974.0" y="389.64" font-size="50.26" textLength="56.68" lengthAdjust="spacingAndGlyphs">10</tspan></text>
<text x="2040.06" y="388.2" font-size="30.96" font-weight="bold" font-style="italic" fill="#a6a6a6" stroke="#a6a6a6" stroke-width="0.4" textLength="43.76" lengthAdjust="spacingAndGlyphs">pts</text>
<text x="1800.49" y="470.8" font-size="35.0" font-weight="bold" font-style="italic" fill="#ae1f3a" textLength="37.47" lengthAdjust="spacingAndGlyphs">62</text>
<text font-weight="bold" fill="#44568c"><tspan x="1713.16" y="584.12" font-size="55.98" textLength="30.23" lengthAdjust="spacingAndGlyphs">5</tspan><tspan x="1744.12" y="584.4" font-size="56.33" textLength="24.39" lengthAdjust="spacingAndGlyphs">1</tspan></text>
<text font-weight="bold" font-style="italic" fill="#44568c" stroke="#44568c" stroke-width="0.5"><tspan x="1797.31" y="572.7" font-size="49.53" textLength="15.95" lengthAdjust="spacingAndGlyphs" stroke-width="0.5">-</tspan><tspan x="1813.52" y="571.8" font-size="51.3" textLength="27.06" lengthAdjust="spacingAndGlyphs">4</tspan></text>
<text x="1852.38" y="572.1" font-size="25.21" font-weight="bold" font-style="italic" fill="#a6a6a6" stroke="#a6a6a6" stroke-width="0.35" textLength="36.09" lengthAdjust="spacingAndGlyphs">pts</text>
<text x="1742.76" y="635.3" font-size="34.0" font-weight="bold" font-style="italic" fill="#44568c" textLength="34.88" lengthAdjust="spacingAndGlyphs">55</text>
<text x="1674.25" y="747.0" font-size="58.0" font-weight="bold" font-style="normal" fill="#2e6e35" textLength="61.05" lengthAdjust="spacingAndGlyphs">46</text>
<text font-weight="bold" font-style="italic" fill="#2e6e35" stroke="#2e6e35" stroke-width="0.5"><tspan x="1752.73" y="718.0" font-size="45.52" textLength="26.08" lengthAdjust="spacingAndGlyphs" stroke-width="1.1">+</tspan><tspan x="1780.03" y="716.6" font-size="51.15" textLength="26.85" lengthAdjust="spacingAndGlyphs">4</tspan></text>
<text x="1817.49" y="715.4" font-size="25.14" font-weight="bold" font-style="italic" fill="#a6a6a6" stroke="#a6a6a6" stroke-width="0.35" textLength="36.79" lengthAdjust="spacingAndGlyphs">pts</text>
<text x="1672.76" y="789.7" font-size="35.0" font-weight="bold" font-style="italic" fill="#2e6e35" textLength="36.97" lengthAdjust="spacingAndGlyphs">42</text>
<text x="1650.55" y="909.8" font-size="58.0" font-weight="bold" font-style="normal" fill="#0c1f94" textLength="61.52" lengthAdjust="spacingAndGlyphs">43</text>
<text font-weight="bold" font-style="italic" fill="#20346c" stroke="#20346c" stroke-width="0.5"><tspan x="1730.91" y="892.9" font-size="46.22" textLength="26.57" lengthAdjust="spacingAndGlyphs" stroke-width="1.1">+</tspan><tspan x="1756.35" y="892.42" font-size="51.23" textLength="29.2" lengthAdjust="spacingAndGlyphs">6</tspan></text>
<text x="1796.74" y="891.5" font-size="24.78" font-weight="bold" font-style="italic" fill="#a6a6a6" stroke="#a6a6a6" stroke-width="0.35" textLength="35.51" lengthAdjust="spacingAndGlyphs">pts</text>
<text x="1606.17" y="957.2" font-size="34.0" font-weight="bold" font-style="italic" fill="#20346c" textLength="36.24" lengthAdjust="spacingAndGlyphs">37</text>
<g transform="translate(1926.3 356.8)"><use href="#upA"/></g>
<g transform="translate(1710.3 693.7)"><use href="#upA"/></g>
<g transform="translate(1694.8 859)"><use href="#upA"/></g>
<g transform="translate(1786.8 587.4)"><use href="#dnA"/></g>
<g>
<clipPath id="caC"><rect x="1172.8" y="366.9" width="98" height="55" rx="8" ry="8"/></clipPath>
<g clip-path="url(#caC)"><rect x="1172.8" y="366.9" width="98" height="55" fill="#c8392b"/><rect x="1200" y="366.9" width="43.4" height="55" fill="#ececec"/></g>
<path transform="translate(1222 378.8) scale(0.01024 0.0081)" fill="#c8392b" d="M-90 4000 L-45 3130 A90 90 0 0 0 -152 3038 L-1010 3190 L-893 2870 A65 65 0 0 0 -913 2796 L-1855 2035 L-1643 1936 A65 65 0 0 0 -1609 1857 L-1795 1285 L-1253 1400 A65 65 0 0 0 -1180 1362 L-1075 1115 L-652 1569 A65 65 0 0 0 -541 1512 L-745 460 L-418 649 A65 65 0 0 0 -327 622 L0 0 L327 622 A65 65 0 0 0 418 649 L745 460 L541 1512 A65 65 0 0 0 652 1569 L1075 1115 L1180 1362 A65 65 0 0 0 1253 1400 L1795 1285 L1609 1857 A65 65 0 0 0 1643 1936 L1855 2035 L913 2796 A65 65 0 0 0 893 2870 L1010 3190 L152 3038 A90 90 0 0 0 45 3130 L90 4000 Z"/>
</g>
<g><rect x="1173.7" y="538.3" width="88.4" height="52.8" fill="#fff"/><rect x="1173.7" y="538.30" width="88.4" height="4.06" fill="#b22234"/><rect x="1173.7" y="546.42" width="88.4" height="4.06" fill="#b22234"/><rect x="1173.7" y="554.55" width="88.4" height="4.06" fill="#b22234"/><rect x="1173.7" y="562.67" width="88.4" height="4.06" fill="#b22234"/><rect x="1173.7" y="570.79" width="88.4" height="4.06" fill="#b22234"/><rect x="1173.7" y="578.92" width="88.4" height="4.06" fill="#b22234"/><rect x="1173.7" y="587.04" width="88.4" height="4.06" fill="#b22234"/><rect x="1173.7" y="538.3" width="35.2" height="28.43" fill="#2b3a78"/><circle cx="1176.63" cy="541.14" r="0.95" fill="#e8eaf2"/><circle cx="1182.50" cy="541.14" r="0.95" fill="#e8eaf2"/><circle cx="1188.37" cy="541.14" r="0.95" fill="#e8eaf2"/><circle cx="1194.23" cy="541.14" r="0.95" fill="#e8eaf2"/><circle cx="1200.10" cy="541.14" r="0.95" fill="#e8eaf2"/><circle cx="1205.97" cy="541.14" r="0.95" fill="#e8eaf2"/><circle cx="1179.57" cy="543.99" r="0.95" fill="#e8eaf2"/><circle cx="1185.43" cy="543.99" r="0.95" fill="#e8eaf2"/><circle cx="1191.30" cy="543.99" r="0.95" fill="#e8eaf2"/><circle cx="1197.17" cy="543.99" r="0.95" fill="#e8eaf2"/><circle cx="1203.03" cy="543.99" r="0.95" fill="#e8eaf2"/><circle cx="1176.63" cy="546.83" r="0.95" fill="#e8eaf2"/><circle cx="1182.50" cy="546.83" r="0.95" fill="#e8eaf2"/><circle cx="1188.37" cy="546.83" r="0.95" fill="#e8eaf2"/><circle cx="1194.23" cy="546.83" r="0.95" fill="#e8eaf2"/><circle cx="1200.10" cy="546.83" r="0.95" fill="#e8eaf2"/><circle cx="1205.97" cy="546.83" r="0.95" fill="#e8eaf2"/><circle cx="1179.57" cy="549.67" r="0.95" fill="#e8eaf2"/><circle cx="1185.43" cy="549.67" r="0.95" fill="#e8eaf2"/><circle cx="1191.30" cy="549.67" r="0.95" fill="#e8eaf2"/><circle cx="1197.17" cy="549.67" r="0.95" fill="#e8eaf2"/><circle cx="1203.03" cy="549.67" r="0.95" fill="#e8eaf2"/><circle cx="1176.63" cy="552.52" r="0.95" fill="#e8eaf2"/><circle cx="1182.50" cy="552.52" r="0.95" fill="#e8eaf2"/><circle cx="1188.37" cy="552.52" r="0.95" fill="#e8eaf2"/><circle cx="1194.23" cy="552.52" r="0.95" fill="#e8eaf2"/><circle cx="1200.10" cy="552.52" r="0.95" fill="#e8eaf2"/><circle cx="1205.97" cy="552.52" r="0.95" fill="#e8eaf2"/><circle cx="1179.57" cy="555.36" r="0.95" fill="#e8eaf2"/><circle cx="1185.43" cy="555.36" r="0.95" fill="#e8eaf2"/><circle cx="1191.30" cy="555.36" r="0.95" fill="#e8eaf2"/><circle cx="1197.17" cy="555.36" r="0.95" fill="#e8eaf2"/><circle cx="1203.03" cy="555.36" r="0.95" fill="#e8eaf2"/><circle cx="1176.63" cy="558.20" r="0.95" fill="#e8eaf2"/><circle cx="1182.50" cy="558.20" r="0.95" fill="#e8eaf2"/><circle cx="1188.37" cy="558.20" r="0.95" fill="#e8eaf2"/><circle cx="1194.23" cy="558.20" r="0.95" fill="#e8eaf2"/><circle cx="1200.10" cy="558.20" r="0.95" fill="#e8eaf2"/><circle cx="1205.97" cy="558.20" r="0.95" fill="#e8eaf2"/><circle cx="1179.57" cy="561.04" r="0.95" fill="#e8eaf2"/><circle cx="1185.43" cy="561.04" r="0.95" fill="#e8eaf2"/><circle cx="1191.30" cy="561.04" r="0.95" fill="#e8eaf2"/><circle cx="1197.17" cy="561.04" r="0.95" fill="#e8eaf2"/><circle cx="1203.03" cy="561.04" r="0.95" fill="#e8eaf2"/><circle cx="1176.63" cy="563.89" r="0.95" fill="#e8eaf2"/><circle cx="1182.50" cy="563.89" r="0.95" fill="#e8eaf2"/><circle cx="1188.37" cy="563.89" r="0.95" fill="#e8eaf2"/><circle cx="1194.23" cy="563.89" r="0.95" fill="#e8eaf2"/><circle cx="1200.10" cy="563.89" r="0.95" fill="#e8eaf2"/><circle cx="1205.97" cy="563.89" r="0.95" fill="#e8eaf2"/></g>
<g>
<rect x="1170.9" y="702.1" width="32" height="46.1" fill="#2e6e35"/>
<rect x="1202.9" y="702.1" width="32" height="46.1" fill="#fff"/>
<rect x="1234.8" y="702.1" width="33.2" height="46.1" fill="#ea4a25"/>
<path d="M1205 724.600 A14.300 11.600 0 0 0 1233.600 725" fill="none" stroke="#33743a" stroke-width="2.400" stroke-dasharray="2.600 .7"/>
<path d="M1208.500 728 A12 8 0 0 0 1230 728.500" fill="none" stroke="#3b7a42" stroke-width="1.300" stroke-dasharray="1.800 .8"/>
<path d="M1213 716C1217 712.300 1226 712.800 1229 718C1231 722 1230.500 726 1228 728.500L1222.500 729.800L1220 727.200L1214.500 726.400L1211 722.500L1208 721L1212 719.200Z" fill="#8b4f35"/>
<path d="M1211 714.500l3.500 1.200l-1.600 3l-3 -1.600z" fill="#3b7a42"/>
<path d="M1213.500 730.200h9v2.400h-9z" fill="#8b93b8" opacity=".75"/>
<circle cx="1219.200" cy="732.200" r="1.700" fill="#d3452d"/>
</g>
<g>
<rect x="1173.7" y="866.8" width="96.1" height="48.2" fill="#fff"/>
<rect x="1173.7" y="866.8" width="96.1" height="9.64" fill="#20346c"/>
<rect x="1173.7" y="886.08" width="96.1" height="9.64" fill="#20346c"/>
<rect x="1173.7" y="905.36" width="96.1" height="9.64" fill="#20346c"/>
<path d="M1173.7 866.8 L1214.3 890.9 L1173.7 915 Z" fill="#dc3237"/>
<path transform="translate(1186.9 890.9)" fill="#fff" d="M0 -7 L1.65 -2.27 L6.66 -2.16 L2.67 0.87 L4.11 5.66 L0 2.8 L-4.11 5.66 L-2.67 0.87 L-6.66 -2.16 L-1.65 -2.27 Z"/>
</g>
<g id="illus" stroke-linejoin="round" stroke-linecap="round">
<!-- decorative icons -->
<g fill="none" stroke="#1b1b8d" stroke-width="1.55">
<path d="M226.7 622.2h9.6M231.5 617.4v9.6"/>
<path d="M229.6 796.9h9.6M234.4 792.1v9.6"/>
<path d="M583.2 628h9.6M588 623.2v9.6"/>
<path d="M621.8 813.3h9.6M626.6 808.5v9.6"/>
<ellipse cx="264.1" cy="654.6" rx="11.2" ry="13.9"/>
<ellipse cx="618.3" cy="660.8" rx="12" ry="15"/>
<path d="M618.3 653.6l2 4.3 4.7.5-3.5 3.2 1 4.7-4.2-2.4-4.2 2.4 1-4.7-3.5-3.2 4.7-.5z"/>
<path d="M233.800 712.500c-3.400-8.400-9.700-15-9.700-23.800a9.700 9.700 0 0 1 19.400 0c0 8.800-6.300 15.400-9.700 23.800z" fill="#fff"/>
<circle cx="233.800" cy="689.500" r="3.100"/>
<path d="M229 706.200h-4.400a3 3 0 0 0-3 3v29.700a3 3 0 0 0 3 3h19.400l7.200 6.700-.6-6.700h11.100a3 3 0 0 0 3-3v-29.700a3 3 0 0 0-3-3h-23.200"/>
<path d="M236.300 726.400l4.200 4.900 12.600-15.500"/>
<path d="M588.800 747.700h37.100a3 3 0 0 1 3 3v28.700a3 3 0 0 1-3 3h-19.200l-7.700 8.700v-8.700h-10.200a3 3 0 0 1-3-3v-28.700a3 3 0 0 1 3-3z"/>
</g>
<text x="264.200" y="659.600" font-size="14" font-weight="bold" fill="#1b1b8d" text-anchor="middle">$</text>
<text x="607.700" y="772.300" font-size="20.500" fill="#1b1b8d" text-anchor="middle">%</text>

<!-- left suitcase -->
<g>
<path d="M242.200 836.800l28.800-2.800v13l-28.800 2.400z" fill="#0b0b5c"/>
<path d="M196.200 965.600C196.200 945 203 934 213.600 932L278 925.900C286 925.500 288.700 931 288.700 940.400V1072C288.700 1080 284 1082.600 278 1083.200L226.200 1088.800C208 1089.500 196.200 1084 196.200 1069.200Z" fill="#f6e8fb"/>
<path d="M243 934.800V836l27.500-2.500v94.300" fill="none" stroke="#0b0b5c" stroke-width="1.600"/>
<path d="M226.200 1088.800V951.600C226.200 941 231 934.500 240.200 933.400" fill="none" stroke="#0b0b5c" stroke-width="1.300"/>
<path d="M226.200 1032.800C240 1030 246 1027 256 1026S270 1022 282.200 1020.200" fill="none" stroke="#0b0b5c" stroke-width="1.400"/>
<path d="M245.800 932.500V957.200L269 954.500V930" fill="none" stroke="#0b0b5c" stroke-width="1.400"/>
<path d="M206.600 971.200h2.800v18.200h2v51.800h-2v19.600h-2.800v-19.600h-1.400v-51.800h1.400z" fill="#0b0b5c"/>
<g fill="#0b0b5c"><path d="M202.500 1082h3.500v6h-3.500zM230.800 1088h3.500v6h-3.500z"/><ellipse cx="204.600" cy="1094" rx="5.600" ry="6.800"/><ellipse cx="232.600" cy="1101" rx="6.200" ry="7.600"/><path d="M255.500 1085.500c1 4 4 6 7.500 5.500s5-3 5-6.600z"/></g>
</g>

<!-- right suitcase -->
<g>
<path d="M573.400 833.800l29 3.400v13l-29-2.400z" fill="#0b0b5c"/>
<path d="M563 937.600C563 930 567 926.200 573.600 925.900L635.200 930.600C648 932.500 654.300 940 654.300 951.600V1080.400C654.300 1089 650 1094 643.600 1095.800L619.800 1100C600 1097 585 1090 568 1083.200C564 1080 563 1074 563 1066.400Z" fill="#f6e8fb"/>
<path d="M574.200 937V836l27.400 2.500v98.500" fill="none" stroke="#0b0b5c" stroke-width="1.600"/>
<path d="M573.800 936.200c2 8 8 10.500 14 10.500s11.500-3.500 13.500-10.500z" fill="#0b0b5c"/>
<path d="M600.200 937.600C609 938.500 616 940 617 950L619.800 1100M600.200 927.800L636.600 933.400M638 934.800L638.600 1094.400" fill="none" stroke="#0b0b5c" stroke-width="1.300"/>
<path d="M563 1019.400C575 1021 585 1026 595 1028.500S606 1031 616.200 1032.800" fill="none" stroke="#0b0b5c" stroke-width="1.400"/>
<g fill="#0b0b5c"><rect x="625.800" y="971" width="4.800" height="9.400" rx="1.800"/><rect x="645.400" y="966.600" width="4.800" height="9.400" rx="1.800"/><rect x="625.800" y="1059.800" width="4.800" height="9.400" rx="1.800"/><rect x="645.400" y="1054.800" width="4.800" height="9.400" rx="1.800"/>
<path d="M567 1082h3.500v6H567zM617.500 1097h3.500v6h-3.500zM646 1087h3.500v6H646z"/><ellipse cx="568.800" cy="1095" rx="5.800" ry="7.400"/><ellipse cx="619.200" cy="1110.300" rx="6.400" ry="8.600"/><ellipse cx="647.800" cy="1099.400" rx="5.800" ry="7.600"/></g>
</g>

<!-- woman 1 -->
<g>
<path d="M302 696Q302 687 311 687H391Q399.700 687 399.700 696V770L330 812L318 840.300Q305 839 304.200 830Z" fill="#6f3a21"/>
<!-- hat -->
<path d="M349.500 594.200C354 593.500 358 594.500 362.200 595.800C365 597 367 598.500 369.600 599.500C376 599 383 598.800 389.600 600C395 601 400 602.500 404.300 605.300C408 608 410.500 611 411.700 614.800C413 618 413.500 621 413.300 624.300C413 629 412.500 633 410.700 636.900C409 641 407 644.500 404.300 647.400C401.500 651 399 654.500 395.900 656.900C392 660 388 662.500 383.800 664.300L383.800 677.500L343.200 679.100C339 680 335 680.300 330.600 680.100C326 680 322 680 317.900 679.100C314 677.500 310 675.500 307.400 672.700C304.500 670 302.500 667 301.600 663.200C300.800 659 300.700 655.500 301.100 651.700C302 646.500 304 641.500 306.300 636.900C308.500 633 311.500 629.500 314.800 626.400C318.500 623.300 322.500 620.800 326.400 617.900C327 615 328 612.500 329.500 609.500C332 605.500 335 602 339 599C342 596.500 345.500 595 349.500 594.200Z" fill="#6f3a21"/>
<path d="M327.400 616.900C340 609 354 604.500 368.500 600.500" fill="none" stroke="#0b0b5c" stroke-width="1.200"/>
<!-- hair -->
<path d="M339 636.900C342 627 350 621.600 359 621.600C369 621.600 376.500 628 379 636.900L383.800 664.300V677.500L374.800 679H343.200L326.400 670.600Z" fill="#0b0b5c"/>
<!-- face + neck -->
<path d="M350.600 640H378L379.200 664.300L372.500 676L371.700 679L367.200 721.500L343.200 679L343.800 669.600C340 664 337.500 659 338 653.800C339 650.500 342 649.500 345 651Z" fill="#ec8f6c"/>
<path d="M349.500 671.700C352.500 675.500 356 677.800 360 678.400C364.500 679 368.500 678.500 372.700 677" fill="none" stroke="#0b0b5c" stroke-width="1.400"/>
<ellipse cx="366.900" cy="667.600" rx="5" ry="2.700" fill="#0b0b5c"/>
<path d="M369.600 646V655.500L366 661.200H371" fill="none" stroke="#0b0b5c" stroke-width="1"/>
<circle cx="356.400" cy="654" r="7.300" fill="#12128c"/><circle cx="377.400" cy="654.300" r="6.500" fill="#12128c"/>
<path d="M342.200 648.500L350.500 652M362.500 652.400H372" fill="none" stroke="#14148c" stroke-width="2"/>
<!-- shirt -->
<path d="M343.200 679L322.100 694.200L294.900 738L324.500 760.600L327 790L325.700 811L401 831L405 760L409.800 744L419.300 735.700L395.600 695.400L371.700 679L367.200 721.500Z" fill="#0d0b8a"/>
<path d="M343.200 679L367.200 721.500L371.700 679Z" fill="#ec8f6c"/>
<g fill="none" stroke="#efe4fa" stroke-width="1.300">
<path d="M314.500 701.500L322.500 707.500M308.500 711.500L322.500 721.500M303 722.500L323 737M298.500 733.500L323.500 752"/>
<path d="M322.700 696L332 750M335.500 690.500L347.500 765M353.500 716L359 752M367.600 723V738M378 705L382.500 742M393 715L396 745"/>
<path d="M394 707.500L399.200 701.200M397.500 721.500L405.500 710.800M400.500 735L411.500 722.500M408.500 742L416.500 733"/>
</g>
<path d="M343.500 700.500L346.500 707.500L367.200 721.500L379.500 704L378 698" fill="none" stroke="#0b0b5c" stroke-width="1"/>
<!-- straps -->
<path d="M325.700 690.700H337.500L341.100 768H331.600Z" fill="#6f3a21"/>
<path d="M383.700 690L394.400 695L393.200 742.800L383.700 745Z" fill="#6f3a21"/>
<!-- left arm -->
<path d="M297 741L324 761L322 768.500L345.800 767.700L358.300 757.800L362 760.500H376L380.200 768L379 782L372 791L350.600 790.200L329.200 799.700L300.800 804.400Q292 800 289.500 786.600Q289.500 770 293 756Z" fill="#ec8f6c"/>
<path d="M306.700 768.900H345" fill="none" stroke="#0b0b5c" stroke-width="1.200"/>
<!-- shorts -->
<path d="M325.700 810.700L356 810.700L401.500 830.800L405.100 853.300L411 918.500L400.300 924.400L369.500 925.600L323.300 924.400L305 917.300L311.500 866.400L317.400 839.100Z" fill="#0b0b5c"/>
<path d="M321.500 833.800L349.400 835L348.200 851L334.600 855.100L321.500 847.400ZM393.200 835.500L401.500 834.400L404.500 852.100L395.600 850.400Z" fill="none" stroke="#f3dde9" stroke-width="1.500"/>
<path d="M380.800 838.500C376 846 373.500 851 373.100 856.900L370.700 925.600" fill="none" stroke="#ecdff6" stroke-width="1.300"/>
<!-- map -->
<path d="M361.800 737.500L389.700 746.400L409.800 743.400L432.300 727.400L435.900 815.400L412.200 828.400L383.700 831.400L353.500 826.100Z" fill="#f6e8fb"/>
<path d="M389.700 746.400L384 831M409.800 743.400L412.200 828.400" fill="none" stroke="#14148c" stroke-width="1"/>
<!-- hands -->
<path d="M355 763.500L358.900 762.700L366.900 762.100Q370 760 373 759.100Q376 758.800 376.100 760.300Q376.200 762.500 374.900 764L379.200 763.400Q381 764 380.100 765.800L376.700 770.700L379.800 772Q381.300 773 380.400 774.400L376.700 779.300L378.900 780.900Q379.800 782 378.600 783L373 787.900L366.900 791L359.500 791.600L355 791Z" fill="#ec8f6c"/>
<path d="M361.300 768.300Q369 768.500 374.300 763.600M361.300 776.300Q370 776 377.200 769.700M362.600 783.600Q370.500 783.500 376.600 778.300" fill="none" stroke="#14148c" stroke-width="1.700"/>
<path d="M433.500 733.400L440.500 739.600L440 753.100L437 764.200L433.200 769.100L424.500 770.200Q421.500 768 421.500 764.200Q421.800 761.500 424.600 759.900L418.800 758.600Q416.800 756.500 418.400 755L423.400 753.100L419.800 750.600Q418 748.500 419.600 746.800L424.600 744.500L430.700 740.800L433.500 737.100Z" fill="#ec8f6c"/>
<path d="M421.500 750.200Q427.500 750 432.800 746.200M420.800 757.800Q428 757.300 434.500 753.300M424.200 764.600Q430 764 435.300 760.200" fill="none" stroke="#14148c" stroke-width="1.400"/>
<!-- legs -->
<path d="M321.600 924.500L369 925.700L366.600 950.500L358.300 981.400L324 1050L319.300 1058.700L290.100 1041L301.500 998L313.300 962.400Z" fill="#ec8f6c"/>
<path d="M369 925.700L402.200 924.500L401 998L398.800 1068.300H366.200L364.300 1050L358.300 981.400L366.600 950.500Z" fill="#ec8f6c"/>
<path d="M369 925.700L366.600 950.500C364.500 962 362 972 358.300 981.400L352 994" fill="none" stroke="#0b0b5c" stroke-width="1"/>
<!-- socks + shoes -->
<path d="M290.100 1041L319.300 1058.700L311.700 1075.900L285.800 1058.700Z" fill="#f6e8fb"/>
<path d="M285.800 1058.700L311.700 1075.900L327 1111.300L321.200 1121.400L272.400 1086.500L274.400 1075Z" fill="#0b0b5c"/>
<path d="M290.100 1041L285.800 1058.700" fill="none" stroke="#0b0b5c" stroke-width="1.600"/>
<path d="M279 1087L322 1117" fill="none" stroke="#e9c9c0" stroke-width=".8"/>
<path d="M312 1079C318 1078 323 1081 324.500 1086L321.500 1090C318.500 1085 315 1081 312 1079C309.500 1083 308 1089 308.500 1093.500H312.500C313.500 1089 313.500 1084 312 1079Z" fill="none" stroke="#f3e3f0" stroke-width="1.700"/>
<path d="M366.200 1068.300H398.800V1085.500H368.100Z" fill="#f6e8fb"/>
<path d="M368.100 1085.500H399.700L424.600 1104.600Q425.500 1110 425.100 1116.100L421.700 1119H369.100L365.300 1109.400V1097Z" fill="#0b0b5c"/>
<path d="M376 1113.500H412" fill="none" stroke="#b5643c" stroke-width="1.200"/>
<path d="M402.500 1086C407 1084 411.500 1084 414 1085.500L413 1090C409 1089.500 405.500 1088 402.500 1086C401 1092 401.500 1098 403.500 1103L405.500 1103.500C406 1097 405 1091 402.500 1086Z" fill="none" stroke="#f0d9e6" stroke-width="1.100"/>
</g>

<!-- woman 2 -->
<g>
<!-- raised arm (behind hat) -->
<path d="M545.200 616.600L553.200 622.100L556.900 632L562.400 649.200L574.100 665.200L583.900 681.200L590.100 698.400L590.700 708.200L587 720.500L582.700 724.800L546.400 733.400L555.700 694.500L563.600 694.700L560.600 686.100L555.700 671.300L551.400 656.600L544.600 651.600L540 640L543 625Z" fill="#6f3a21"/>
<path d="M559.300 683.600L566.700 700.800" fill="none" stroke="#0b0b5c" stroke-width="1.300"/>
<ellipse cx="492.500" cy="633.400" rx="56.600" ry="46.200" fill="#0b0b8c" transform="rotate(3 492.500 633.400)"/>
<path d="M535.500 638.500L538.500 636.200L543 637.300L549.300 641L553 650L547 654L541 646.500Z" fill="#6f3a21"/>
<!-- head -->
<path d="M469.800 641.600C474 634 483 631 491 632C500 633 508 640 511 650L510.500 656C510 661 507 666 501.800 670L499 676.500L486.400 678.600C480 677.500 475 673 471.500 666C469.500 660 468.500 650 469.800 641.600Z" fill="#6f3a21"/>
<path d="M468.600 650C466.500 634 476 621.500 490 621.500C503 621.500 513 633 511.800 648.500L510.500 651C508 650 506 651.500 504.500 655L501.500 664C500.500 655 498 647 495 641.500C488 637.500 478 638.500 470.500 644.500Z" fill="#0b0b5c"/>
<path d="M468 655C467 659 467.200 662 468 666" fill="none" stroke="#0b0b5c" stroke-width="1.500"/>
<circle cx="473.900" cy="653.500" r="1.500" fill="#0b0b5c"/><circle cx="491.100" cy="651.700" r="1.500" fill="#0b0b5c"/>
<path d="M481.600 645.200C480.500 650 478.500 653 476.900 655.800C476.500 659 478 661 480.400 662.300M471.500 648.500L475 647M488.500 645.500L493 646" fill="none" stroke="#0b0b5c" stroke-width="1"/>
<ellipse cx="483.400" cy="668.300" rx="4.500" ry="2.500" fill="#0b0b5c"/>
<!-- neck -->
<path d="M481 676L504.500 671L506 690L484.500 727L478 690Z" fill="#6f3a21"/>
<path d="M479.500 677C483 679.500 492 679 498.500 673" fill="none" stroke="#0b0b5c" stroke-width="1.200"/>
<!-- left arm -->
<path d="M444.300 729.200L459.100 739.200L461.500 767.700L448.400 778.300L453 792L460.300 807.800L474.500 827.900L472.100 840.900L466.200 848.600L455.500 843.300L449.600 820.800L440.100 804.400L436 790L435.400 772.400L438 750Z" fill="#6f3a21"/>
<path d="M442.500 775.500L447 778.500M459 822Q462 828 468 829M456.500 829.500Q459.500 836 466 836.500M455 837Q458 842.500 463.500 843" fill="none" stroke="#0b0b5c" stroke-width="1"/>
<!-- waist + pants -->
<path d="M466 796L534 796L540.900 817.300L548.600 877.700L548.900 960L553.600 1059L541.100 1065.300L498.600 1062.200L497.800 960L496 935L491.500 960L495.500 1063.800L445.900 1065.300L441.200 960L443.100 925L449.600 884.800L455.500 846.900L462 820Z" fill="#0b0b8c"/>
<path d="M497 796L533.700 796L535 806L498 812Z" fill="#6f3a21"/>
<path d="M478 800L490 800L484 809Z" fill="#6f3a21"/>
<path d="M484 862L497 925" fill="none" stroke="#0b0b5c" stroke-width=".8"/>
<!-- shirt -->
<path d="M479.200 678.300L466.200 688.900L440.700 720.300L444.300 729.200L459.100 739.200L462.700 768.900L466.200 798.500L465 812.300L477 807.500L480.400 804L482.800 807.500L485.800 804L486.400 806.400L498.200 815.800L497 803.200L533.700 798.500L532.600 761.800L533.700 735.700L545.600 734.500L555.100 693L517.700 683.100L507.700 672.400L484.500 727Z" fill="#f6e8fb"/>
<path d="M481.200 679L484.500 727L505 674.500L496 690L484.500 715Z" fill="#6f3a21"/>
<path d="M494 727.400H523.100V741.600H520.700V762.900L509.500 769.400L497 761.800V741.600H494ZM460.300 727.400H473.900V741.600L471.500 742.200V761.800L462.700 768.300L457.900 739.200Z" fill="#0b0b8c"/>
<g fill="none" stroke="#14148c" stroke-width="1.100">
<path d="M474.500 685.500L471.500 694L477 692.500L484 726M466.800 689L470 697M517.700 683.100L510.500 696L501 693L484.500 727V790"/>
<path d="M462 714L459 727M532 714L533.500 752"/>
<path d="M479.500 792C472 793 466.500 802 465.600 811M485 792C491 793 496 801 498 814M478.500 797C475.500 798.500 473.500 801 472.500 803.500M486 797C489 798.500 491 801 492 803.500"/>
<rect x="479.800" y="789.200" width="4.800" height="13.600" rx="2.400" fill="#f6e8fb"/>
</g>
<path d="M466.800 688.900Q472 735 517.200 828.900" fill="none" stroke="#0b0b5c" stroke-width="1.400"/>
<!-- hand on hip (over pants) -->
<path d="M449.600 820.800L460.300 807.800L474.500 827.900L472.100 840.900L466.200 848.600L455.500 843.300Z" fill="#6f3a21"/>
<path d="M459 822Q462 828 468 829M456.500 829.500Q459.500 836 466 836.500M455 837Q458 842.500 463.500 843" fill="none" stroke="#0b0b5c" stroke-width="1"/>
<!-- ankles + shoes -->
<path d="M460.100 1066.900L493.100 1065.300L495.500 1085.800L475 1101.500L442 1103L460.900 1084.200ZM510.400 1066.100H539.500V1092L517.500 1101.500L490.800 1103L509.600 1085.800Z" fill="#6f3a21"/>
<path d="M433.400 1110.900Q436 1104 443.600 1102.300L475 1101.500L495.500 1085.800L497 1100L482.100 1118.800L434.900 1118Z" fill="#0b0b5c"/>
<path d="M479.700 1117.200L490.800 1103L517.500 1101.500L539.500 1091.300L540.300 1120.400L482.900 1122.700Z" fill="#0b0b5c"/>
<!-- bag -->
<path d="M533 762Q540 790 544.400 818.400" fill="none" stroke="#0b0b5c" stroke-width="1.300"/>
<ellipse cx="537.300" cy="849.200" rx="24.900" ry="32" fill="#0b0b5c" transform="rotate(-6 537.300 849.200)"/>
<g fill="none" stroke="#f3dde9" stroke-width="1.400"><ellipse cx="539.100" cy="849.800" rx="19.500" ry="25.500" transform="rotate(-6 539.100 849.800)"/><ellipse cx="540.500" cy="849.500" rx="11.300" ry="15.400" transform="rotate(-6 540.500 849.500)"/><ellipse cx="542" cy="849.200" rx="4.700" ry="5.900"/></g>
</g>
</g>

</svg>
</body></html>
